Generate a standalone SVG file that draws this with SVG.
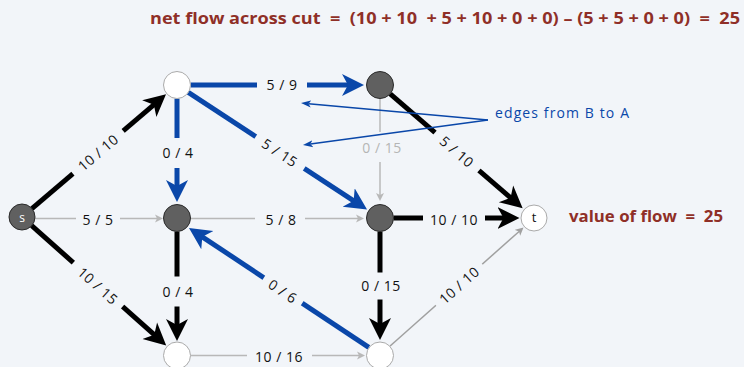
<svg xmlns="http://www.w3.org/2000/svg" width="744" height="367" viewBox="0 0 744 367">
<style>
.lbl{font-family:"Open Sans","Liberation Sans",sans-serif;font-size:14px;letter-spacing:0.5px;fill:#111;text-anchor:middle;dominant-baseline:central}
.gl{fill:#b5b5b5}
.bg{fill:#f2f5f9}
.blk{stroke:#000;stroke-width:5;fill:none}
.blu{stroke:#0a47a9;stroke-width:5;fill:none}
.gry{stroke:#b8b8b8;stroke-width:1.5;fill:none}
.gry2{stroke:#a0a0a0;stroke-width:1.5;fill:none}
.ann{stroke:#0a47a9;stroke-width:1.5;fill:none}
.gn{fill:#606060;stroke:#2a2a2a;stroke-width:1}
.wn{fill:#fff;stroke:#aaa;stroke-width:1}
.red{font-family:"Open Sans","Liberation Sans",sans-serif;font-weight:bold;font-size:15.5px;fill:#8f2f27;white-space:pre}
</style>
<defs>
<marker id="ahK" markerUnits="userSpaceOnUse" markerWidth="24" markerHeight="24" viewBox="0 -12 24 24" refX="7" refY="0" orient="auto"><path d="M0,-11 L22,0 L0,11 L6,0 Z" fill="#000"/></marker>
<marker id="ahB" markerUnits="userSpaceOnUse" markerWidth="24" markerHeight="24" viewBox="0 -12 24 24" refX="7" refY="0" orient="auto"><path d="M0,-11 L22,0 L0,11 L6,0 Z" fill="#0a47a9"/></marker>
<marker id="ahG" markerUnits="userSpaceOnUse" markerWidth="10" markerHeight="10" viewBox="0 -5 10 10" refX="2.5" refY="0" orient="auto"><path d="M0,-4 L8,0 L0,4 L2,0 Z" fill="#b8b8b8"/></marker>
<marker id="ahG2" markerUnits="userSpaceOnUse" markerWidth="10" markerHeight="10" viewBox="0 -5 10 10" refX="2.5" refY="0" orient="auto"><path d="M0,-4 L8,0 L0,4 L2,0 Z" fill="#a0a0a0"/></marker>
<marker id="ahA" markerUnits="userSpaceOnUse" markerWidth="12" markerHeight="10" viewBox="0 -5 12 10" refX="2.5" refY="0" orient="auto"><path d="M0,-3.5 L10,0 L0,3.5 L2.5,0 Z" fill="#0a47a9"/></marker>
</defs>
<rect x="0" y="0" width="744" height="367" fill="#f2f5f9"/>
<text class="red" x="150" y="24" textLength="590" lengthAdjust="spacingAndGlyphs">net flow across cut  =  (10 + 10  + 5 + 10 + 0 + 0) – (5 + 5 + 0 + 0)  =  25</text>
<text class="red" x="569" y="222" textLength="154" lengthAdjust="spacingAndGlyphs">value of flow  =  25</text>
<g id="connectors">
<line class="blk" x1="31.9" y1="208.6" x2="154.6" y2="104.1" marker-end="url(#ahK)"/>
<line class="gry" x1="35" y1="218.5" x2="157.5" y2="218.5" marker-end="url(#ahG)"/>
<line class="blk" x1="31.7" y1="225.6" x2="155" y2="335.4" marker-end="url(#ahK)"/>
<line class="blu" x1="190.5" y1="85" x2="349" y2="85" marker-end="url(#ahB)"/>
<line class="blu" x1="177" y1="98.5" x2="177" y2="187" marker-end="url(#ahB)"/>
<line class="blu" x1="188.3" y1="92.4" x2="354.5" y2="201.3" marker-end="url(#ahB)"/>
<line class="gry" x1="380" y1="98.5" x2="380" y2="195.5" marker-end="url(#ahG)"/>
<line class="blk" x1="390.2" y1="93.8" x2="511.3" y2="198.4" marker-end="url(#ahK)"/>
<line class="gry" x1="190.5" y1="218.5" x2="358.5" y2="218.5" marker-end="url(#ahG)"/>
<line class="blk" x1="177" y1="231.5" x2="177" y2="326" marker-end="url(#ahK)"/>
<line class="blu" x1="368.8" y1="347.4" x2="201.5" y2="236.3" marker-end="url(#ahB)"/>
<line class="blk" x1="393.5" y1="218" x2="504.5" y2="218" marker-end="url(#ahK)"/>
<line class="blk" x1="380" y1="231.5" x2="380" y2="325" marker-end="url(#ahK)"/>
<line class="gry" x1="190.5" y1="355.5" x2="359.5" y2="355.5" marker-end="url(#ahG)"/>
<line class="gry2" x1="390.1" y1="346" x2="519.4" y2="231.2" marker-end="url(#ahG2)"/>
<!-- label gaps -->
<rect class="bg" x="-33" y="-8" width="66" height="16" transform="translate(98 152.3) rotate(-40.4)"/>
<rect class="bg" x="76" y="211" width="44" height="16"/>
<rect class="bg" x="-33" y="-8" width="66" height="16" transform="translate(98 284.6) rotate(41.7)"/>
<rect class="bg" x="257" y="77" width="50" height="16"/>
<rect class="bg" x="171" y="138" width="12" height="30"/>
<rect class="bg" x="-29" y="-8" width="58" height="16" transform="translate(280 152.5) rotate(33.2)"/>
<rect class="bg" x="374" y="132" width="12" height="30"/>
<rect class="bg" x="-29" y="-8" width="58" height="16" transform="translate(457 151.5) rotate(40.8)"/>
<rect class="bg" x="255" y="210" width="50" height="16"/>
<rect class="bg" x="171" y="276.5" width="12" height="30"/>
<rect class="bg" x="-23" y="-8" width="46" height="16" transform="translate(283 290.5) rotate(33.6)"/>
<rect class="bg" x="423" y="210" width="62" height="16"/>
<rect class="bg" x="374" y="272.5" width="12" height="27"/>
<rect class="bg" x="247" y="347" width="65" height="16"/>
<rect class="bg" x="-31" y="-8" width="62" height="16" transform="translate(459 284.7) rotate(-41.7)"/>
<!-- labels -->
<text class="lbl" transform="translate(98 152.3) rotate(-40.4)">10 / 10</text>
<text class="lbl" x="98" y="219.5">5 / 5</text>
<text class="lbl" transform="translate(98 285.5) rotate(41.7)">10 / 15</text>
<text class="lbl" x="282" y="84">5 / 9</text>
<text class="lbl" x="178" y="152">0 / 4</text>
<text class="lbl" transform="translate(280 152.5) rotate(33.2)">5 / 15</text>
<text class="lbl gl" x="382" y="147">0 / 15</text>
<text class="lbl" transform="translate(457 151.5) rotate(40.8)">5 / 10</text>
<text class="lbl" x="281" y="219.5">5 / 8</text>
<text class="lbl" x="178" y="291">0 / 4</text>
<text class="lbl" transform="translate(283 291) rotate(33.6)">0 / 6</text>
<text class="lbl" x="454" y="219">10 / 10</text>
<text class="lbl" x="381" y="285.5">0 / 15</text>
<text class="lbl" x="279" y="356.5">10 / 16</text>
<text class="lbl" transform="translate(459 285) rotate(-41.7)">10 / 10</text>
<!-- annotation -->
<line class="ann" x1="488" y1="120" x2="308.5" y2="103.7" marker-end="url(#ahA)"/>
<line class="ann" x1="488" y1="120" x2="310.4" y2="144" marker-end="url(#ahA)"/>
</g>
<text x="495" y="118" font-family="Open Sans, Liberation Sans, sans-serif" font-size="14" fill="#0a47a9" textLength="134">edges from B to A</text>
<g id="s"><circle class="gn" cx="22" cy="217" r="13"/><text x="22" y="217" font-family="Open Sans, Liberation Sans, sans-serif" font-size="12" fill="#fff" text-anchor="middle" dominant-baseline="central">s</text></g>
<g id="v1"><circle class="wn" cx="177" cy="85" r="13.5"/></g>
<g id="v2"><circle class="gn" cx="380" cy="85" r="13.5"/></g>
<g id="v3"><circle class="gn" cx="177" cy="218" r="13.5"/></g>
<g id="v4"><circle class="gn" cx="380" cy="218" r="13.5"/></g>
<g id="t"><circle class="wn" cx="534" cy="218" r="13"/><text x="534" y="217" font-family="Open Sans, Liberation Sans, sans-serif" font-size="13" fill="#111" text-anchor="middle" dominant-baseline="central">t</text></g>
<g id="v5"><circle class="wn" cx="177" cy="355.5" r="13.5"/></g>
<g id="v6"><circle class="wn" cx="380" cy="355.5" r="13.5"/></g>
</svg>
